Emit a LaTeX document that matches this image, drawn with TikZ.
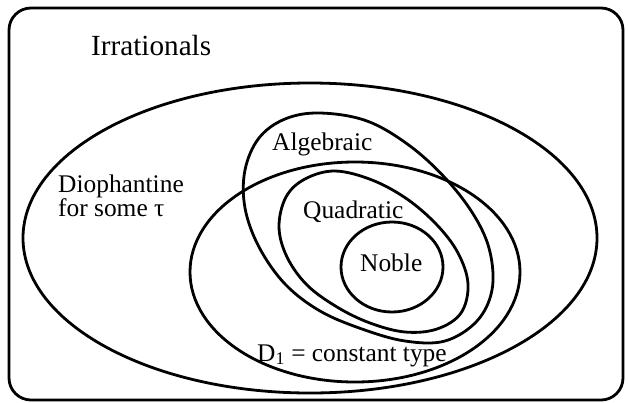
\documentclass[tikz,border=0pt]{standalone}
\usepackage{fontspec}
\setmainfont{Liberation Serif}
\begin{document}
\begin{tikzpicture}[x=1pt,y=-1pt,
  setline/.style={draw=black, line width=2.8pt},
  lbl/.style={inner sep=0pt, anchor=base west, font=\fontsize{25.4}{26}\selectfont},
  ttl/.style={inner sep=0pt, anchor=base west, font=\fontsize{29.2}{30}\selectfont}]
\useasboundingbox (0,0) rectangle (628,402);
% outer frame
\draw[setline, rounded corners=22pt] (9,8) rectangle (623,400);
% Diophantine
\draw[setline] (310,238) ellipse [x radius=287, y radius=155];
% D1 constant type
\draw[setline] (355,272) ellipse [x radius=165, y radius=110];
% Algebraic
\draw[setline] plot[smooth cycle, tension=0.6] coordinates {
  (320,113) (367,121) (410,146) (447,180) (475,217) (490,252) (492,290)
  (477,321) (445,341) (405,341) (362,329) (320,311) (285,284) (259,247)
  (245,208) (245,170) (259,138) (285,119)};
% Quadratic
\draw[setline] plot[smooth cycle, tension=0.6] coordinates {
  (335,171) (372,180) (407,199) (437,225) (458,253) (468,284) (461,313)
  (437,329) (405,332) (370,323) (337,307) (307,285) (287,257) (279,227)
  (286,197) (305,179)};
% Noble
\draw[setline] (392,267) ellipse [x radius=51, y radius=45];
% labels
\node[ttl] (irr) at (91,55) {Irrationals};
\node[lbl] (alg) at (272,150) {Algebraic};
\node[lbl] (quad) at (303,218) {Quadratic};
\node[lbl] (noble) at (360,271) {Noble};
\node[lbl] (dio) at (58,192) {Diophantine};
\node[lbl] (some) at (58,216.5) {for some τ};
\node[lbl] (d1) at (257,361) {D\textsubscript{1} = constant type};
\end{tikzpicture}
\end{document}
